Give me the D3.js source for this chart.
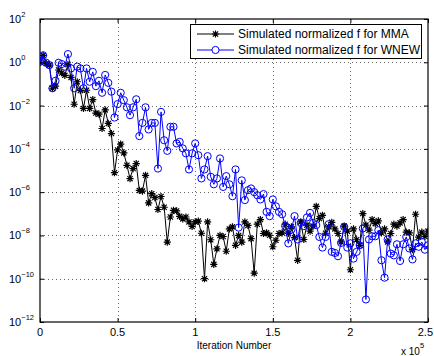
<!DOCTYPE html>
<html>
<head>
<meta charset="utf-8">
<script src="https://cdn.jsdelivr.net/npm/d3@7"></script>
<style>
  html, body { margin: 0; padding: 0; background: #fff; }
  svg { display: block; font-family: "Liberation Sans", Arial, Helvetica, sans-serif; }
</style>
</head>
<body>
<svg id="chart" width="434" height="356"></svg>
<script>
// ---------------- data ----------------
const iterations = [
  0, 2000, 4000, 6000, 8000, 10000, 12000, 14000, 16000, 18000,
  20000, 22000, 24000, 26000, 28000, 30000, 32000, 34000, 36000, 38000,
  40000, 42000, 44000, 46000, 48000, 50000, 52000, 54000, 56000, 58000,
  60000, 62000, 64000, 66000, 68000, 70000, 72000, 74000, 76000, 78000,
  80000, 82000, 84000, 86000, 88000, 90000, 92000, 94000, 96000, 98000,
  100000, 102000, 104000, 106000, 108000, 110000, 112000, 114000, 116000, 118000,
  120000, 122000, 124000, 126000, 128000, 130000, 132000, 134000, 136000, 138000,
  140000, 142000, 144000, 146000, 148000, 150000, 152000, 154000, 156000, 158000,
  160000, 162000, 164000, 166000, 168000, 170000, 172000, 174000, 176000, 178000,
  180000, 182000, 184000, 186000, 188000, 190000, 192000, 194000, 196000, 198000,
  200000, 202000, 204000, 206000, 208000, 210000, 212000, 214000, 216000, 218000,
  220000, 222000, 224000, 226000, 228000, 230000, 232000, 234000, 236000, 238000,
  240000, 242000, 244000, 246000, 248000, 250000
];

const mmaValues = [
  1.0, 2.1, 0.89, 0.74, 0.063, 0.079, 0.44, 0.32, 0.25, 0.79,
  0.2, 1.15e-2, 0.126, 0.05, 7.4e-3, 5.1e-2, 7.4e-3, 1.9e-2, 4.5e-3, 4.0e-3,
  8.7e-4, 6.3e-3, 1.5e-3, 5.1e-4, 7.9e-6, 8.9e-5, 1.66e-4, 6.5e-5, 1.74e-5, 4.2e-6,
  1.23e-5, 2.1e-5, 1.2e-6, 1.12e-6, 6.0e-6, 3.2e-7, 8.5e-7, 5.6e-7, 1.58e-7, 6.3e-7,
  2.0e-7, 4.9e-9, 7.1e-8, 1.45e-7, 1.35e-7, 7.6e-8, 5.8e-8, 7.1e-8, 4.2e-8, 2.6e-8,
  4.2e-8, 4.6e-8, 1.26e-8, 1.0e-10, 4.2e-8, 6.3e-9, 4.6e-10, 2.4e-9, 1.0e-8, 8.9e-9,
  1.86e-9, 2.0e-8, 2.5e-8, 3.5e-9, 1.0e-8, 4.9e-9, 4.2e-8, 2.9e-8, 7.1e-9, 1.8e-10,
  3.3e-8, 5.4e-8, 1.23e-8, 1.32e-8, 1.02e-8, 3.0e-9, 6.0e-9, 1.23e-8, 1.32e-8, 3.3e-8,
  1.23e-8, 2.5e-8, 7.9e-9, 7.1e-10, 4.2e-8, 6.5e-9, 3.0e-8, 1.58e-8, 2.7e-8, 2.2e-7,
  6.0e-8, 8.5e-8, 1.26e-8, 2.5e-8, 4.0e-8, 2.0e-8, 1.23e-8, 5.0e-9, 2.7e-8, 1.58e-8,
  2.6e-10, 2.0e-8, 6.3e-9, 3.5e-9, 1.02e-7, 3.0e-8, 1.74e-8, 5.4e-8, 3.5e-8, 4.7e-8,
  1.32e-8, 2.0e-8, 5.0e-9, 1.23e-8, 3.3e-8, 2.7e-8, 3.8e-8, 5.4e-8, 1.41e-8, 1.32e-8,
  2.2e-9, 9.5e-8, 8.3e-9, 1.41e-8, 8.9e-9, 1.58e-8
];

const wnewValues = [
  1.05, 2.1, 0.95, 0.74, 0.063, 0.14, 0.95, 0.83, 0.63, 2.4,
  0.52, 0.063, 0.63, 0.52, 0.063, 0.52, 0.126, 0.36, 0.079, 0.14,
  0.039, 0.26, 0.112, 0.044, 2.8e-3, 1.17e-2, 3.9e-2, 1.78e-2, 8.3e-3, 3.6e-3,
  8.3e-3, 1.95e-2, 3.9e-4, 1.58e-3, 8.3e-3, 7.9e-4, 1.58e-3, 1.58e-3, 1.23e-5, 5.1e-3,
  2.5e-4, 8.1e-5, 1.05e-3, 1.05e-3, 1.78e-4, 2.1e-4, 1.05e-4, 6.2e-5, 1.12e-5, 6.2e-5,
  1.78e-4, 5.1e-5, 4.3e-6, 1.12e-5, 4.6e-5, 5.1e-6, 2.3e-6, 4.3e-6, 3.6e-5, 1.74e-6,
  5.5e-6, 2.3e-6, 6.5e-7, 1.12e-5, 2.3e-8, 3.5e-6, 4.3e-7, 1.23e-6, 1.48e-6, 1.0e-6,
  7.2e-7, 4.6e-7, 8.1e-7, 1.23e-7, 7.8e-8, 4.6e-7, 2.2e-7, 1.23e-7, 9.5e-8, 2.7e-8,
  4.3e-9, 1.86e-8, 7.8e-8, 6.5e-9, 3.8e-8, 2.7e-8, 6.8e-8, 1.1e-7, 3.8e-8, 3.0e-8,
  8.5e-9, 2.75e-9, 8.5e-9, 3.3e-8, 1.74e-9, 1.55e-9, 1.1e-9, 4.5e-9, 2.5e-8, 2.75e-9,
  4.3e-9, 8.5e-10, 1.74e-9, 3.5e-9, 2.1e-8, 1.1e-11, 6.5e-9, 9.1e-9, 9.1e-9, 1.74e-8,
  7.1e-10, 1.12e-10, 6.5e-9, 1.45e-9, 1.2e-9, 3.9e-9, 6.6e-10, 3.9e-9, 8.5e-9, 2.5e-9,
  7.8e-10, 4.3e-9, 3.0e-9, 5.0e-9, 2.2e-9, 3.5e-9
];

const seriesNames = ["Simulated normalized f for MMA", "Simulated normalized f for WNEW"];

const xTickValues = [0, 50000, 100000, 150000, 200000, 250000];
const xTickLabels = ["0", "0.5", "1", "1.5", "2", "2.5"];
const yTickValues = [1e2, 1e0, 1e-2, 1e-4, 1e-6, 1e-8, 1e-10, 1e-12];
const yTickExponents = ["2", "0", "\u22122", "\u22124", "\u22126", "\u22128", "\u221210", "\u221212"];
const xLabel = "Iteration Number";
const xMultiplierBase = "x 10";
const xMultiplierExp = "5";

// ---------------- layout ----------------
const L = 40, R = 428, T = 19, B = 322;
const svg = d3.select("#chart");

const x = d3.scaleLinear().domain([0, 250000]).range([L, R]);
const y = d3.scaleLog().domain([1e-12, 1e2]).range([B, T]);

// grid
const grid = svg.append("g").attr("stroke", "#444").attr("stroke-width", 0.8)
  .attr("stroke-dasharray", "1,3");
grid.selectAll("line.gx").data(xTickValues.slice(1, -1)).enter().append("line")
  .attr("x1", d => Math.round(x(d)) + 0.5).attr("x2", d => Math.round(x(d)) + 0.5)
  .attr("y1", T).attr("y2", B);
grid.selectAll("line.gy").data(yTickValues.slice(1, -1)).enter().append("line")
  .attr("y1", d => Math.round(y(d)) + 0.5).attr("y2", d => Math.round(y(d)) + 0.5)
  .attr("x1", L).attr("x2", R);

// axes (ticks inside, on all sides)
const tickLen = 4;
function styleAxis(g) {
  g.select(".domain").remove();
  g.selectAll(".tick line").attr("stroke", "#000");
  g.selectAll(".tick text").remove();
}
svg.append("g").attr("transform", `translate(0,${B})`)
  .call(d3.axisBottom(x).tickValues(xTickValues).tickSize(-tickLen)).call(styleAxis);
svg.append("g").attr("transform", `translate(0,${T})`)
  .call(d3.axisTop(x).tickValues(xTickValues).tickSize(-tickLen)).call(styleAxis);
svg.append("g").attr("transform", `translate(${L},0)`)
  .call(d3.axisLeft(y).tickValues(yTickValues).tickSize(-tickLen)).call(styleAxis);
svg.append("g").attr("transform", `translate(${R},0)`)
  .call(d3.axisRight(y).tickValues(yTickValues).tickSize(-tickLen)).call(styleAxis);

// box
svg.append("rect").attr("x", L).attr("y", T).attr("width", R - L).attr("height", B - T)
  .attr("fill", "none").attr("stroke", "#000").attr("stroke-width", 1.2);

// tick labels
svg.append("g").selectAll("text").data(xTickValues).enter().append("text")
  .attr("x", (d, i) => i === xTickValues.length - 1 ? 433 : x(d))
  .attr("y", 336)
  .attr("text-anchor", (d, i) => i === xTickValues.length - 1 ? "end" : "middle")
  .attr("font-size", 11).attr("fill", "#000")
  .text((d, i) => xTickLabels[i]);

const yl = svg.append("g").selectAll("text").data(yTickValues).enter().append("text")
  .attr("x", 9).attr("y", d => y(d) + 4).attr("font-size", 11).attr("fill", "#000");
yl.append("tspan").text("10");
yl.append("tspan").attr("dy", -6).attr("font-size", 7.5).text((d, i) => yTickExponents[i]);

// x label and multiplier
svg.append("text").attr("x", (L + R) / 2).attr("y", 349).attr("text-anchor", "middle")
  .attr("font-size", 10).attr("fill", "#000").text(xLabel);
const mult = svg.append("text").attr("x", 401).attr("y", 355).attr("font-size", 10).attr("fill", "#000");
mult.append("tspan").text(xMultiplierBase);
mult.append("tspan").attr("dy", -7).attr("font-size", 7.5).text(xMultiplierExp);

// clip
svg.append("clipPath").attr("id", "plotclip").append("rect")
  .attr("x", L).attr("y", T).attr("width", R - L).attr("height", B - T);

const line = d3.line().x(d => x(d[0])).y(d => y(d[1]));
const mmaData = iterations.map((it, i) => [it, mmaValues[i]]);
const wnewData = iterations.map((it, i) => [it, wnewValues[i]]);

const asterisk = "M-3.6,0H3.6M0,-3.6V3.6M-2.6,-2.6L2.6,2.6M-2.6,2.6L2.6,-2.6";

const plot = svg.append("g").attr("clip-path", "url(#plotclip)");
// MMA
plot.append("path").datum(mmaData).attr("d", line).attr("fill", "none")
  .attr("stroke", "#000").attr("stroke-width", 1);
plot.append("g").selectAll("path").data(mmaData).enter().append("path")
  .attr("transform", d => `translate(${x(d[0])},${y(d[1])})`)
  .attr("d", asterisk).attr("stroke", "#000").attr("stroke-width", 1.2).attr("fill", "none");
// WNEW
plot.append("path").datum(wnewData).attr("d", line).attr("fill", "none")
  .attr("stroke", "#0000ff").attr("stroke-width", 1);
plot.append("g").selectAll("circle").data(wnewData).enter().append("circle")
  .attr("cx", d => x(d[0])).attr("cy", d => y(d[1])).attr("r", 3.6)
  .attr("fill", "none").attr("stroke", "#0000ff").attr("stroke-width", 1);

// legend
const lg = svg.append("g");
lg.append("rect").attr("x", 190.5).attr("y", 24.5).attr("width", 231).attr("height", 34)
  .attr("fill", "#fff").attr("stroke", "#000").attr("stroke-width", 1);
const rows = [34, 50];
lg.append("line").attr("x1", 197).attr("x2", 234).attr("y1", rows[0]).attr("y2", rows[0])
  .attr("stroke", "#000").attr("stroke-width", 1);
lg.append("path").attr("transform", `translate(215.5,${rows[0]})`).attr("d", asterisk)
  .attr("stroke", "#000").attr("stroke-width", 1.2);
lg.append("line").attr("x1", 197).attr("x2", 234).attr("y1", rows[1]).attr("y2", rows[1])
  .attr("stroke", "#0000ff").attr("stroke-width", 1);
lg.append("circle").attr("cx", 215.5).attr("cy", rows[1]).attr("r", 3.6)
  .attr("fill", "#fff").attr("stroke", "#0000ff").attr("stroke-width", 1);
lg.selectAll("text").data(seriesNames).enter().append("text")
  .attr("x", 238).attr("y", (d, i) => rows[i] + 4).attr("font-size", 12).attr("fill", "#000")
  .text(d => d);
</script>
</body>
</html>
